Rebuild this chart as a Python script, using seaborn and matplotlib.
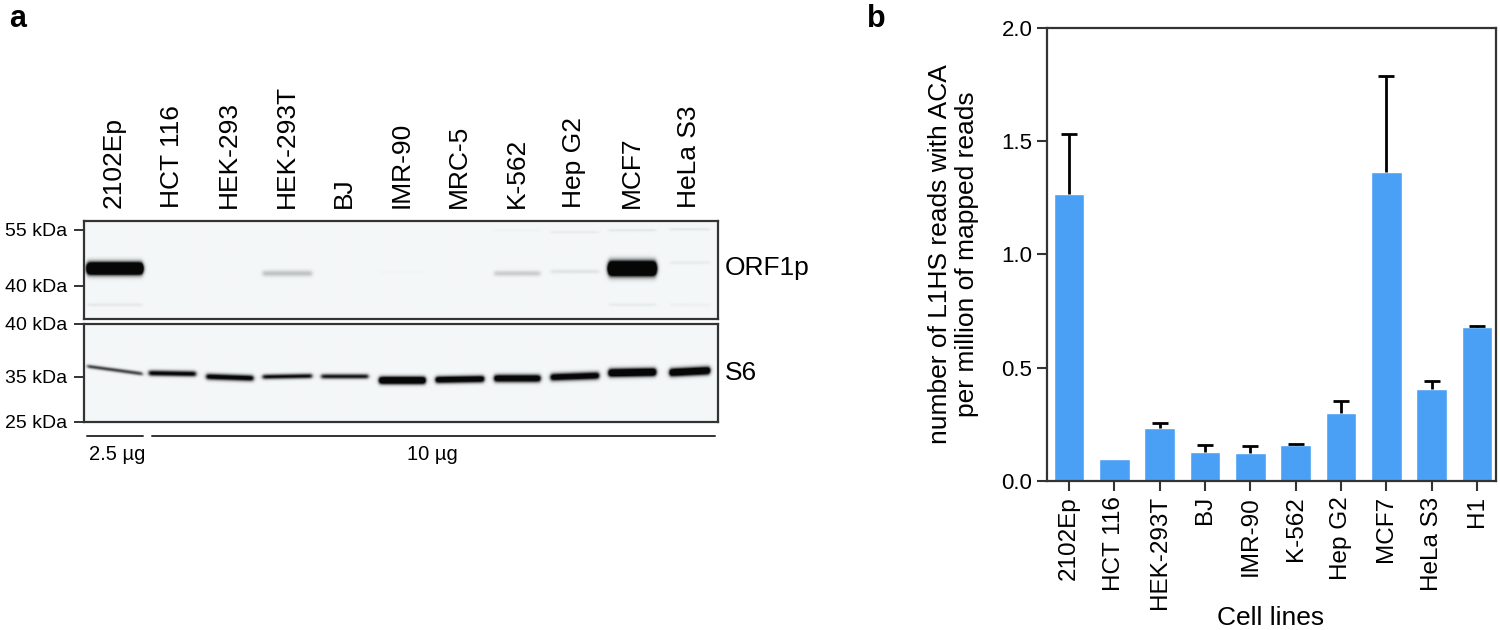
import matplotlib
matplotlib.use('Agg')
import matplotlib.pyplot as plt
import numpy as np
import pandas as pd
import seaborn as sns
from matplotlib.colors import LinearSegmentedColormap

# ---- panel a: western blot data (lane labels, band strength, band position) ----
lanes = ['2102Ep', 'HCT 116', 'HEK-293', 'HEK-293T', 'BJ', 'IMR-90',
         'MRC-5', 'K-562', 'Hep G2', 'MCF7', 'HeLa S3']
band_width = [0.96, 0.82, 0.82, 0.86, 0.82, 0.80, 0.84, 0.80, 0.84, 0.82, 0.70]

orf1p_level = [3.2, 0.0, 0.0, 0.22, 0.0, 0.01, 0.0, 0.18, 0.08, 3.4, 0.05]
orf1p_ypos = [0.49, 0.50, 0.50, 0.54, 0.50, 0.53, 0.50, 0.54, 0.52, 0.49, 0.43]
orf1p_height = [0.038, 0.03, 0.03, 0.022, 0.03, 0.02, 0.03, 0.02, 0.015, 0.045, 0.012]
faint_top_level = [0.0, 0.0, 0.0, 0.0, 0.0, 0.0, 0.0, 0.02, 0.05, 0.07, 0.07]
faint_top_ypos = [0.10, 0.12, 0.12, 0.12, 0.12, 0.12, 0.12, 0.10, 0.12, 0.10, 0.09]
faint_low_level = [0.06, 0.0, 0.0, 0.0, 0.0, 0.0, 0.0, 0.0, 0.0, 0.05, 0.03]

s6_level = [0.75, 1.1, 1.2, 1.0, 0.95, 1.8, 1.5, 1.5, 1.4, 1.8, 1.7]
s6_ypos = [0.475, 0.51, 0.55, 0.54, 0.54, 0.58, 0.57, 0.56, 0.54, 0.50, 0.49]
s6_height = [0.014, 0.02, 0.022, 0.018, 0.018, 0.026, 0.024, 0.026, 0.026, 0.028, 0.028]
s6_tilt = [0.08, 0.01, 0.02, -0.01, 0.0, 0.0, -0.01, 0.0, -0.02, -0.01, -0.03]

upper_kda_pos = [0.09, 0.66]
upper_kda_lbl = ['55 kDa', '40 kDa']
lower_kda_pos = [0.0, 0.54, 1.0]
lower_kda_lbl = ['40 kDa', '35 kDa', '25 kDa']

# ---- panel b: L1HS reads with ACA ----
cell_lines = ['2102Ep', 'HCT 116', 'HEK-293T', 'BJ', 'IMR-90', 'K-562',
              'Hep G2', 'MCF7', 'HeLa S3', 'H1']
reads = [1.266, 0.096, 0.232, 0.128, 0.125, 0.160, 0.299, 1.366, 0.404, 0.680]
reads_top = [1.530, 0.096, 0.256, 0.157, 0.155, 0.164, 0.353, 1.790, 0.443, 0.684]

sns.set_style('ticks')
plt.rcParams['font.family'] = ['Liberation Sans', 'DejaVu Sans']
plt.rcParams['text.color'] = 'black'
plt.rcParams['axes.labelcolor'] = 'black'
plt.rcParams['xtick.labelcolor'] = 'black'
plt.rcParams['ytick.labelcolor'] = 'black'

fig = plt.figure(figsize=(15, 6.3), dpi=100)

edge = '#333333'
blot_cmap = LinearSegmentedColormap.from_list('blot', ['#f4f7f8', '#060606'])
xlo, xhi = -0.53, 10.5
xs = np.linspace(xlo, xhi, 700)
ys = np.linspace(0, 1, 110)
X, Y = np.meshgrid(xs, ys)


def lane_mask(i):
    s = 0.035
    half = band_width[i] / 2
    return 0.5 * (np.tanh((X - (i - half)) / s) - np.tanh((X - (i + half)) / s))


def blot_image(levels, ypos, heights, tilts=None):
    img = np.zeros_like(X)
    for i in range(len(lanes)):
        t = 0 if tilts is None else tilts[i]
        yc = ypos[i] + t * (X - i)
        img += levels[i] * lane_mask(i) * np.exp(-0.5 * ((Y - yc) / heights[i]) ** 2)
    return img


def style_blot(ax):
    ax.set_xlim(xlo, xhi)
    ax.set_ylim(1, 0)
    for sp in ax.spines.values():
        sp.set_visible(True)
        sp.set_color(edge)
        sp.set_linewidth(1.6)


# upper blot (ORF1p)
ax_up = fig.add_axes([0.0557, 0.4937, 0.423, 0.1556])
img_up = blot_image(orf1p_level, orf1p_ypos, orf1p_height)
img_up += blot_image(faint_top_level, faint_top_ypos, [0.01] * len(lanes))
img_up += blot_image(faint_low_level, [0.86] * len(lanes), [0.012] * len(lanes))
ax_up.imshow(np.clip(img_up, 0, 1), cmap=blot_cmap, vmin=0, vmax=1,
             extent=(xlo, xhi, 1, 0), aspect='auto', interpolation='bilinear')
style_blot(ax_up)
ax_up.set_xticks(range(len(lanes)))
ax_up.set_xticklabels(lanes, rotation=90, fontsize=19)
ax_up.xaxis.tick_top()
ax_up.tick_params(axis='x', length=0, pad=9)
ax_up.set_yticks(upper_kda_pos)
ax_up.set_yticklabels(upper_kda_lbl, fontsize=14)
ax_up.tick_params(axis='y', length=7, width=1.4, color=edge, pad=5)
ax_up.text(1.01, 0.52, 'ORF1p', transform=ax_up.transAxes, fontsize=19,
           va='center', ha='left')

# lower blot (S6)
ax_lo = fig.add_axes([0.0557, 0.3302, 0.423, 0.1556])
img_lo = blot_image(s6_level, s6_ypos, s6_height, s6_tilt)
ax_lo.imshow(np.clip(img_lo, 0, 1), cmap=blot_cmap, vmin=0, vmax=1,
             extent=(xlo, xhi, 1, 0), aspect='auto', interpolation='bilinear')
style_blot(ax_lo)
ax_lo.set_xticks([])
ax_lo.set_yticks(lower_kda_pos)
ax_lo.set_yticklabels(lower_kda_lbl, fontsize=14)
ax_lo.tick_params(axis='y', length=7, width=1.4, color=edge, pad=5)
ax_lo.text(1.01, 0.50, 'S6', transform=ax_lo.transAxes, fontsize=19,
           va='center', ha='left')

# loading amount underlines
ax_lo.plot([-0.47, 0.5], [1.143, 1.143], color=edge, lw=1.4, clip_on=False)
ax_lo.plot([0.66, 10.45], [1.143, 1.143], color=edge, lw=1.4, clip_on=False)
ax_lo.text(0.05, 1.33, '2.5 \u00b5g', fontsize=14.5, ha='center', va='center')
ax_lo.text(5.53, 1.33, '10 \u00b5g', fontsize=14.5, ha='center', va='center')

# ---- panel b ----
ax_b = fig.add_axes([0.698, 0.2365, 0.2993, 0.7191])
df = pd.DataFrame({'cell': cell_lines, 'reads': reads})
sns.barplot(data=df, x='cell', y='reads', color='#4aa0f5', saturation=1,
            width=0.68, errorbar=None, ax=ax_b)

# upper-only error bars, skipped where there is no spread
upper = np.array(reads_top) - np.array(reads)
has_err = upper > 0
idx = np.arange(len(cell_lines))[has_err]
eb = ax_b.errorbar(idx, np.array(reads)[has_err],
                   yerr=[np.zeros(has_err.sum()), upper[has_err]], fmt='none',
                   ecolor='black', elinewidth=2, capsize=6, capthick=2)
eb[1][0].set_visible(False)

ax_b.set_xlim(-0.485, 9.42)
ax_b.set_ylim(0, 2.0)
ax_b.set_yticks([0, 0.5, 1.0, 1.5, 2.0])
ax_b.set_yticklabels(['0.0', '0.5', '1.0', '1.5', '2.0'], fontsize=16)
ax_b.set_xticks(range(len(cell_lines)))
ax_b.set_xticklabels(cell_lines, rotation=90, fontsize=17.5)
ax_b.tick_params(axis='both', length=7, width=1.5, color=edge)
ax_b.tick_params(axis='x', pad=4)
for sp in ax_b.spines.values():
    sp.set_visible(True)
    sp.set_color(edge)
    sp.set_linewidth(1.6)
ax_b.set_xlabel('Cell lines', fontsize=19)
ax_b.xaxis.set_label_coords(0.497, -0.276)
ax_b.set_ylabel('number of L1HS reads with ACA\nper million of mapped reads',
                fontsize=19, labelpad=16, linespacing=1.15)

fig.text(0.006, 0.97, 'a', fontsize=22, fontweight='bold', va='center')
fig.text(0.578, 0.97, 'b', fontsize=22, fontweight='bold', va='center')

fig.savefig('out.png', dpi=100)
